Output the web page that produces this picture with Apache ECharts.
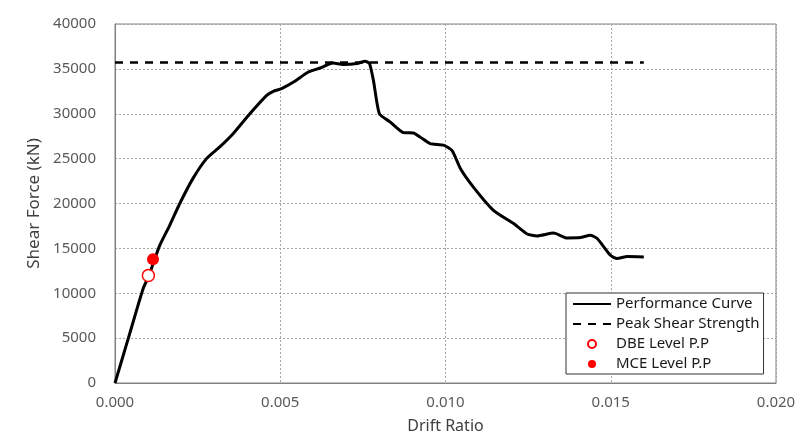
<!DOCTYPE html>
<html>
<head>
<meta charset="utf-8">
<script src="https://cdn.jsdelivr.net/npm/echarts@6/dist/echarts.min.js"></script>
<style>
  html, body { margin: 0; padding: 0; background: #fff; }
  #chart { width: 801px; height: 448px; }
</style>
</head>
<body>
<div id="chart"></div>
<script>
// performance curve
const driftRatio = [0, 0.000445, 0.00085, 0.00103, 0.00135, 0.00166, 0.00196, 0.00236, 0.00277, 0.00317,
  0.00358, 0.00408, 0.00459, 0.00479, 0.00504, 0.00539, 0.00585, 0.0062, 0.0066, 0.0069,
  0.00732, 0.00757, 0.0077, 0.00782, 0.0080, 0.00832, 0.00873, 0.00903, 0.00923, 0.00954,
  0.00994, 0.0102, 0.01045, 0.01085, 0.01146, 0.01206, 0.01247, 0.01277, 0.01327, 0.01368,
  0.01408, 0.01438, 0.01459, 0.01499, 0.01519, 0.0155, 0.0160];
const shearForce = [0, 5500, 10500, 12000, 15300, 17600, 20000, 22800, 25000, 26300,
  27800, 30000, 32050, 32500, 32800, 33500, 34650, 35100, 35650, 35500,
  35600, 35850, 35600, 33700, 30000, 29100, 27900, 27860, 27400, 26670,
  26500, 25900, 23900, 21800, 19200, 17760, 16600, 16380, 16700, 16160,
  16200, 16460, 16100, 14230, 13860, 14100, 14050];

const peakShear = 35700;
const peakDrift = [0, 0.016];
const dbePoint = [0.00101, 11970];
const mcePoint = [0.00115, 13780];

const seriesNames = ['Performance Curve', 'Peak Shear Strength', 'DBE Level P.P', 'MCE Level P.P'];
const xTicks = [0, 0.02, 0.005];
const yTicks = [0, 40000, 5000];

var mychart = echarts.init(document.getElementById('chart'), null, { renderer: 'canvas' });

const font = 'Noto Sans';
const hideSymbol = { opacity: 0 };

mychart.setOption({
  animation: false,
  backgroundColor: '#fff',
  grid: {
    left: 115, right: 25, top: 24, bottom: 65,
    show: true, borderColor: '#808080', borderWidth: 1
  },
  xAxis: {
    type: 'value',
    min: xTicks[0], max: xTicks[1], interval: xTicks[2],
    name: 'Drift Ratio',
    nameLocation: 'middle',
    nameGap: 35,
    nameTextStyle: { fontFamily: font, fontSize: 16, color: '#404040' },
    axisLine: { show: true, lineStyle: { color: '#808080' } },
    axisTick: { show: false },
    axisLabel: {
      fontFamily: font, fontSize: 15, color: '#595959', margin: 12,
      formatter: v => v.toFixed(3)
    },
    splitLine: { show: true, lineStyle: { color: '#a6a6a6', type: [2, 2] } }
  },
  yAxis: {
    type: 'value',
    min: yTicks[0], max: yTicks[1], interval: yTicks[2],
    name: 'Shear Force (kN)',
    nameLocation: 'middle',
    nameGap: 71,
    nameTextStyle: { fontFamily: font, fontSize: 17, color: '#404040' },
    axisLine: { show: true, lineStyle: { color: '#808080' } },
    axisTick: { show: false },
    axisLabel: {
      fontFamily: font, fontSize: 15, color: '#595959', margin: 19,
      formatter: v => String(v)
    },
    splitLine: { show: true, lineStyle: { color: '#a6a6a6', type: [2, 2] } }
  },
  legend: {
    orient: 'vertical',
    left: 566, top: 293,
    data: [
      { name: seriesNames[0], itemStyle: hideSymbol },
      { name: seriesNames[1], itemStyle: hideSymbol },
      { name: seriesNames[2] },
      { name: seriesNames[3] }
    ],
    itemWidth: 38, itemHeight: 8, itemGap: 0,
    padding: [1, 4, 0, 6],
    borderColor: '#333', borderWidth: 1, borderRadius: 0,
    backgroundColor: '#fff',
    textStyle: { fontFamily: font, fontSize: 15, lineHeight: 20, color: '#1a1a1a' }
  },
  series: [
    {
      name: seriesNames[0],
      type: 'line',
      data: driftRatio.map((d, i) => [d, shearForce[i]]),
      symbol: 'none',
      smooth: 0.2,
      lineStyle: { color: '#000', width: 3 },
      itemStyle: { color: '#000' },
      z: 3
    },
    {
      name: seriesNames[1],
      type: 'line',
      data: peakDrift.map(d => [d, peakShear]),
      symbol: 'none',
      lineStyle: { color: '#000', width: 2.5, type: [8, 7] },
      itemStyle: { color: '#000' },
      z: 2
    },
    {
      name: seriesNames[2],
      type: 'scatter',
      data: [dbePoint],
      symbol: 'circle',
      symbolSize: 12,
      itemStyle: { color: '#fff', borderColor: '#ff0000', borderWidth: 1.5, opacity: 1 },
      z: 4
    },
    {
      name: seriesNames[3],
      type: 'scatter',
      data: [mcePoint],
      symbol: 'circle',
      symbolSize: 12,
      itemStyle: { color: '#ff0000', opacity: 1 },
      z: 4
    }
  ]
});
</script>
</body>
</html>
